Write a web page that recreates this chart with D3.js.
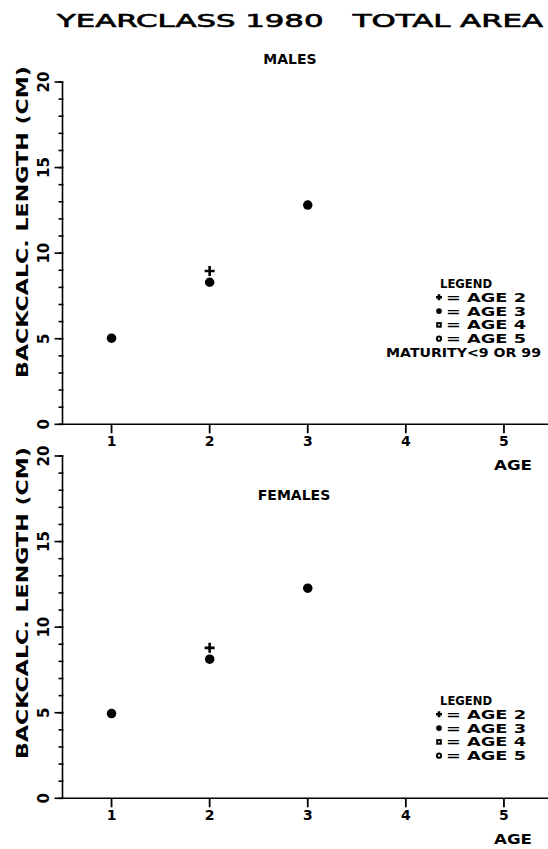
<!DOCTYPE html>
<html>
<head>
<meta charset="utf-8">
<script src="https://cdn.jsdelivr.net/npm/d3@7"></script>
<style>
  html, body { margin: 0; padding: 0; background: #fff; }
  svg { display: block; }
  text { font-family: "DejaVu Sans", sans-serif; font-weight: bold; fill: #000; white-space: pre; }
</style>
</head>
<body>
<svg id="chart" width="548" height="849"></svg>
<script>
// ---- data ----
const title = "YEARCLASS 1980   TOTAL AREA";
const panelTitles = ["MALES", "FEMALES"];
const xTicks = [1, 2, 3, 4, 5];
const yMajorTicks = [0, 5, 10, 15, 20];
const yMinorTicks = d3.range(0, 21, 1);
const yTitle = "BACKCALC. LENGTH (CM)";
const xTitle = "AGE";
const legendLabels = ["AGE 2", "AGE 3", "AGE 4", "AGE 5"];
const legendSymbols = ["plus", "star", "square", "circle"];
const maturityNote = "MATURITY<9 OR 99";

// males
const malesAge2 = [[2, 8.96]];
const malesAge3 = [[1, 5.03], [2, 8.30], [3, 12.81]];
// females
const femalesAge2 = [[2, 8.79]];
const femalesAge3 = [[1, 4.95], [2, 8.13], [3, 12.28]];

const svg = d3.select("#chart");

// title
svg.append("text").attr("x", 57).attr("y", 27)
  .attr("textLength", 486).attr("lengthAdjust", "spacingAndGlyphs")
  .style("font-size", "17px").style("font-weight", "normal")
  .attr("stroke", "#000").attr("stroke-width", 0.6)
  .text(title);

const x = d3.scaleLinear().domain([0.5, 5.5]).range([62.5, 553]);

function marker(g, type, cx, cy, s) {
  if (type === "plus") {
    g.append("path")
      .attr("d", `M${cx - s},${cy}H${cx + s}M${cx},${cy - s}V${cy + s}`)
      .attr("stroke", "#000").attr("stroke-width", 2.6).attr("fill", "none");
  } else if (type === "star") {
    g.append("circle").attr("cx", cx).attr("cy", cy).attr("r", s * 0.95).attr("fill", "#000");
  } else if (type === "square") {
    g.append("rect").attr("x", cx - s * 0.6).attr("y", cy - s * 0.6)
      .attr("width", s * 1.2).attr("height", s * 1.2)
      .attr("fill", "none").attr("stroke", "#000").attr("stroke-width", 2);
  } else {
    g.append("circle").attr("cx", cx).attr("cy", cy).attr("r", s * 0.7)
      .attr("fill", "none").attr("stroke", "#000").attr("stroke-width", 2);
  }
}

function panel(opts) {
  const y = d3.scaleLinear().domain([0, 20]).range(opts.yRange);
  const g = svg.append("g");
  const x0 = x.range()[0];

  // y axis line
  g.append("line").attr("x1", x0).attr("x2", x0)
    .attr("y1", y(0)).attr("y2", y(20))
    .attr("stroke", "#000").attr("stroke-width", 1.6);
  // minor ticks
  g.selectAll(".ymin").data(yMinorTicks).enter().append("line")
    .attr("x1", x0 - 4).attr("x2", x0 + 1)
    .attr("y1", d => y(d)).attr("y2", d => y(d))
    .attr("stroke", "#000").attr("stroke-width", 1.6);
  // major ticks
  g.selectAll(".ymaj").data(yMajorTicks).enter().append("line")
    .attr("x1", x0 - 8).attr("x2", x0)
    .attr("y1", d => y(d)).attr("y2", d => y(d))
    .attr("stroke", "#000").attr("stroke-width", 1.6);
  // y tick labels (rotated)
  g.selectAll(".ylab").data(yMajorTicks).enter().append("text")
    .attr("transform", d => `translate(49,${y(d)}) rotate(-90)`)
    .attr("text-anchor", "middle")
    .style("font-size", "15px").text(d => d);
  // y title
  g.append("text")
    .attr("transform", `translate(28,${opts.yTitleCenter}) rotate(-90)`)
    .attr("text-anchor", "middle")
    .attr("textLength", 312).attr("lengthAdjust", "spacingAndGlyphs")
    .style("font-size", "16px").text(yTitle);

  // x axis
  g.append("line").attr("x1", x0).attr("x2", 548)
    .attr("y1", y(0)).attr("y2", y(0))
    .attr("stroke", "#000").attr("stroke-width", 1.4);
  g.selectAll(".xt").data(xTicks).enter().append("line")
    .attr("x1", d => x(d)).attr("x2", d => x(d))
    .attr("y1", y(0)).attr("y2", y(0) + 9)
    .attr("stroke", "#000").attr("stroke-width", 1.8);
  g.selectAll(".xl").data(xTicks).enter().append("text")
    .attr("x", d => x(d)).attr("y", y(0) + 22)
    .attr("text-anchor", "middle").style("font-size", "14px").text(d => d);
  g.append("text").attr("x", 513).attr("y", y(0) + 46)
    .attr("text-anchor", "middle").attr("textLength", 38).attr("lengthAdjust", "spacingAndGlyphs")
    .style("font-size", "14px").text(xTitle);

  // panel title
  g.append("text").attr("x", opts.titleX).attr("y", opts.titleY)
    .attr("text-anchor", "middle").style("font-size", "14px").text(opts.title);

  // points
  opts.age3.forEach(d => marker(g, "star", x(d[0]), y(d[1]), 5));
  opts.age2.forEach(d => marker(g, "plus", x(d[0]), y(d[1]), 5));

  // legend
  const lx = opts.legendX, ly = opts.legendY, step = 13.8;
  g.append("text").attr("x", lx + 4).attr("y", ly)
    .attr("textLength", 52).attr("lengthAdjust", "spacingAndGlyphs")
    .style("font-size", "13px").text("LEGEND");
  legendLabels.forEach((lab, i) => {
    const yy = ly + step * (i + 1);
    marker(g, legendSymbols[i], lx + 3, yy - 4.5, 3);
    g.append("text").attr("x", lx + 10).attr("y", yy)
      .attr("textLength", 80).attr("lengthAdjust", "spacingAndGlyphs")
      .style("font-size", "13px").text("= " + lab);
  });
  if (opts.note) {
    g.append("text").attr("x", 386).attr("y", ly + step * 5)
      .attr("textLength", 155).attr("lengthAdjust", "spacingAndGlyphs")
      .style("font-size", "13px").text(opts.note);
  }
}

panel({
  yRange: [424.3, 82], yTitleCenter: 222, title: panelTitles[0], titleX: 290, titleY: 64,
  age2: malesAge2, age3: malesAge3, legendX: 436, legendY: 288, note: maturityNote
});
panel({
  yRange: [798.3, 456], yTitleCenter: 603, title: panelTitles[1], titleX: 294, titleY: 500,
  age2: femalesAge2, age3: femalesAge3, legendX: 436, legendY: 705, note: null
});
</script>
</body>
</html>
